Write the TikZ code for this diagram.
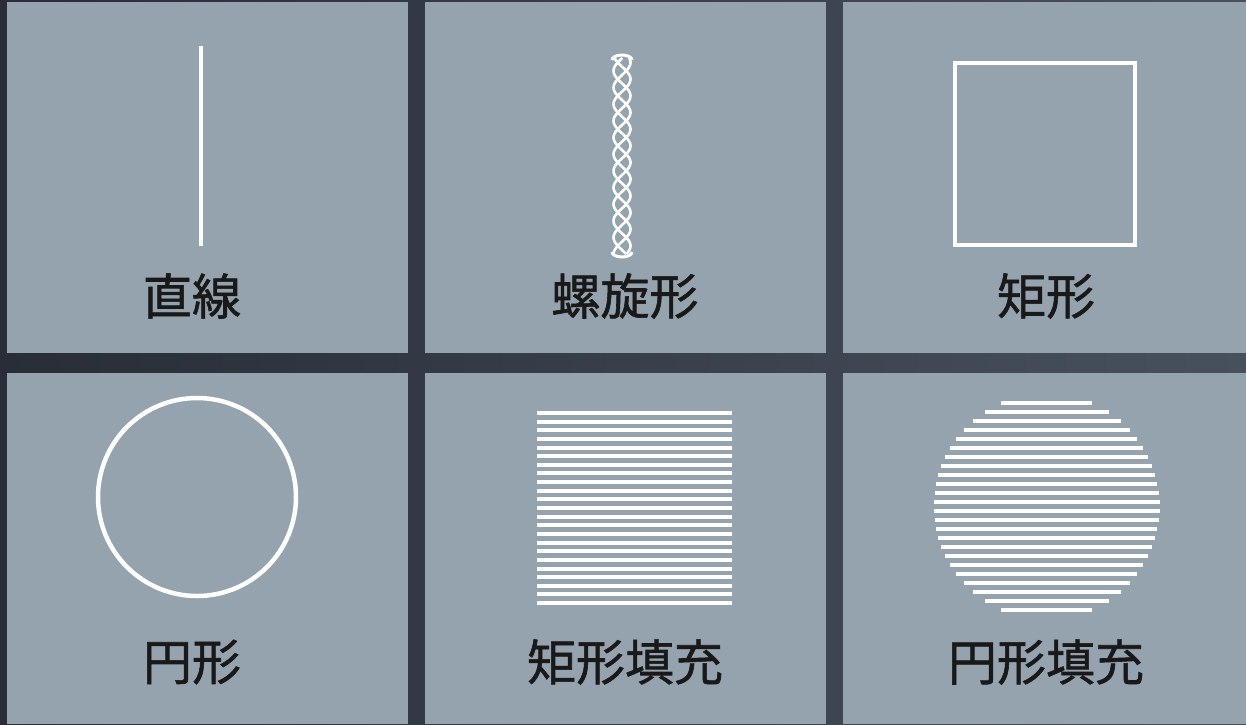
\documentclass[tikz,border=0pt]{standalone}
\usepackage{fontspec}
\newfontfamily\cjk[FakeBold=1.2]{Noto Sans CJK JP}
\definecolor{panel}{HTML}{94A3AD}
\definecolor{bgdark}{HTML}{282D37}
\definecolor{bgmid}{HTML}{47515E}
\begin{document}
\begin{tikzpicture}[x=1pt,y=-1pt,
	panel/.style={fill=panel},
	wline/.style={draw=white,line width=4.5pt},
	hatch/.style={draw=white,line width=4pt},
	lbl/.style={font=\cjk\fontsize{49}{49}\selectfont,text=black!90}]
	\useasboundingbox (0,0) rectangle (1246,724);
	% background and panels
	\shade[left color=bgdark,right color=bgmid] (0,0) rectangle (1246,724);
	\fill[panel] (7,2) rectangle (408,353);
	\fill[panel] (425,2) rectangle (826,353);
	\fill[panel] (843,2) rectangle (1246,353);
	\fill[panel] (7,373) rectangle (408,724);
	\fill[panel] (425,373) rectangle (826,724);
	\fill[panel] (843,373) rectangle (1246,724);
	% top row
	\draw[wline] (201,46) -- (201,246);
	\foreach \ph in {0,120,240}
		\draw[white,line width=2.6pt] plot[domain=58:254,samples=120] ({622+8.5*sin(7.2*\x+\ph)},{\x});
	\draw[white,line width=3pt] (612,60) arc (180:360:10 and 5);
	\draw[white,line width=3pt] (612,252) arc (180:0:10 and 5);
	\draw[wline] (955,63) rectangle (1135,245);
	\node[lbl] (line) at (192,296) {直線};
	\node[lbl] (spiral) at (625,296) {螺旋形};
	\node[lbl] (rect) at (1046,296) {矩形};
	% bottom row
	\draw[wline] (197,497) circle (99);
	\foreach \i in {0,...,22}
		\draw[hatch] (537,{413+8.64*\i}) -- (732,{413+8.64*\i});
	\foreach \i in {0,...,23} {
		\pgfmathsetmacro\dy{-103.5+9*\i}
		\pgfmathsetmacro\hw{sqrt(113*113-\dy*\dy)}
		\draw[hatch] ({1046.7-\hw},{506.5+\dy}) -- ({1046.7+\hw},{506.5+\dy});
	}
	\node[lbl] (circ) at (192,662) {円形};
	\node[lbl] (rectfill) at (625,662) {矩形填充};
	\node[lbl] (circfill) at (1046,662) {円形填充};
\end{tikzpicture}
\end{document}
